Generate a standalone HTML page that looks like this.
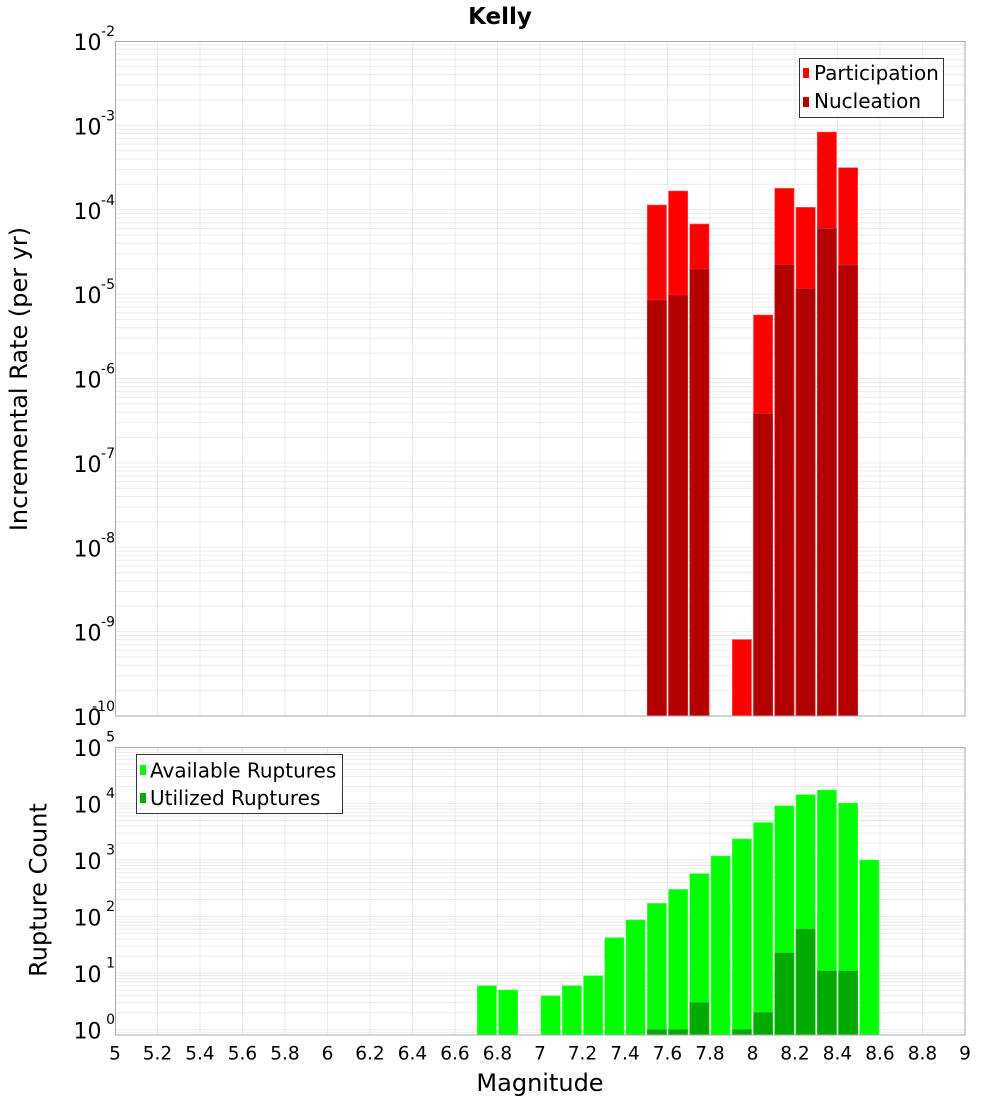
<!DOCTYPE html>
<html><head><meta charset="utf-8"><style>
html,body{margin:0;padding:0;background:#fff;}
svg{display:block;}
text{font-family:"DejaVu Sans","Liberation Sans",sans-serif;fill:#000;}
</style></head><body>
<svg width="1000" height="1100" viewBox="0 0 1000 1100" xmlns="http://www.w3.org/2000/svg">
<rect x="0" y="0" width="1000" height="1100" fill="#fff"/>
<text x="500" y="24" font-size="23" font-weight="bold" text-anchor="middle">Kelly</text>

<!-- TOP PLOT GRID -->
<g stroke="#ebebeb" stroke-width="1" fill="none">
<path d="M157.5 41V716M200 41V716M242.5 41V716M285 41V716M327.5 41V716M370 41V716M412.5 41V716M455 41V716M497.5 41V716M540 41V716M582.5 41V716M625 41V716M667.5 41V716M710 41V716M752.5 41V716M795 41V716M837.5 41V716M880 41V716M922.5 41V716"/>
<path d="M115 690.6H965M115 675.74H965M115 665.2H965M115 657.02H965M115 650.34H965M115 644.69H965M115 639.8H965M115 635.49H965M115 631.63H965
M115 606.23H965M115 591.37H965M115 580.83H965M115 572.65H965M115 565.97H965M115 560.32H965M115 555.43H965M115 551.12H965M115 547.25H965
M115 521.85H965M115 506.99H965M115 496.45H965M115 488.27H965M115 481.59H965M115 475.94H965M115 471.05H965M115 466.74H965M115 462.88H965
M115 437.48H965M115 422.62H965M115 412.08H965M115 403.9H965M115 397.22H965M115 391.57H965M115 386.68H965M115 382.37H965M115 378.5H965
M115 353.1H965M115 338.24H965M115 327.7H965M115 319.52H965M115 312.84H965M115 307.19H965M115 302.3H965M115 297.99H965M115 294.13H965
M115 268.73H965M115 253.87H965M115 243.33H965M115 235.15H965M115 228.47H965M115 222.82H965M115 217.93H965M115 213.62H965M115 209.75H965
M115 184.35H965M115 169.49H965M115 158.95H965M115 150.77H965M115 144.09H965M115 138.44H965M115 133.55H965M115 129.24H965M115 125.38H965
M115 99.98H965M115 85.12H965M115 74.58H965M115 66.4H965M115 59.72H965M115 54.07H965M115 49.18H965M115 44.87H965"/>
</g>

<!-- TOP BARS participation -->
<g fill="#ff0000" stroke="#ff6060" stroke-width="0.6">
<rect x="647.25" y="205" width="19.25" height="511"/>
<rect x="668.5" y="191" width="19.25" height="525"/>
<rect x="689.75" y="224" width="19.25" height="492"/>
<rect x="732.25" y="639.5" width="19.25" height="76.5"/>
<rect x="753.5" y="315" width="19.25" height="401"/>
<rect x="774.75" y="188.3" width="19.25" height="527.7"/>
<rect x="796" y="207.3" width="19.25" height="508.7"/>
<rect x="817.25" y="132" width="19.25" height="584"/>
<rect x="838.5" y="167.7" width="19.25" height="548.3"/>
</g>
<!-- TOP BARS nucleation -->
<g fill="#b30000" stroke="#c84040" stroke-width="0.6">
<rect x="647.25" y="300" width="19.25" height="416"/>
<rect x="668.5" y="295" width="19.25" height="421"/>
<rect x="689.75" y="269" width="19.25" height="447"/>
<rect x="753.5" y="413.3" width="19.25" height="302.7"/>
<rect x="774.75" y="264.3" width="19.25" height="451.7"/>
<rect x="796" y="288.3" width="19.25" height="427.7"/>
<rect x="817.25" y="228.3" width="19.25" height="487.7"/>
<rect x="838.5" y="265" width="19.25" height="451"/>
</g>
<rect x="115.5" y="41.5" width="849.5" height="674.5" fill="none" stroke="#aaaaaa" stroke-width="1"/>

<!-- TOP LEGEND -->
<rect x="799.5" y="58.5" width="144" height="59" fill="#fff" stroke="#333" stroke-width="1"/>
<rect x="803" y="68" width="6" height="10" fill="#ff0000"/>
<rect x="803" y="97" width="6" height="10" fill="#b30000"/>
<text x="814" y="80" font-size="20">Participation</text>
<text x="814" y="108" font-size="20">Nucleation</text>

<!-- TOP Y LABELS -->
<g font-size="22" text-anchor="end">
<text x="101.5" y="50">10</text>
<text x="101.5" y="134.4">10</text>
<text x="101.5" y="218.8">10</text>
<text x="101.5" y="303.1">10</text>
<text x="101.5" y="387.5">10</text>
<text x="101.5" y="471.9">10</text>
<text x="101.5" y="556.3">10</text>
<text x="101.5" y="640.6">10</text>
<text x="101.5" y="725">10</text>
</g>
<g font-size="14" text-anchor="end">
<text x="115" y="36">-2</text>
<text x="115" y="120.4">-3</text>
<text x="115" y="204.8">-4</text>
<text x="115" y="289.1">-5</text>
<text x="115" y="373.5">-6</text>
<text x="115" y="457.9">-7</text>
<text x="115" y="542.3">-8</text>
<text x="115" y="626.6">-9</text>
<text x="115" y="711">-10</text>
</g>
<text transform="translate(27,379) rotate(-90)" font-size="24" text-anchor="middle">Incremental Rate (per yr)</text>

<!-- BOTTOM PLOT GRID -->
<g stroke="#ebebeb" stroke-width="1" fill="none">
<path d="M157.5 747V1035M200 747V1035M242.5 747V1035M285 747V1035M327.5 747V1035M370 747V1035M412.5 747V1035M455 747V1035M497.5 747V1035M540 747V1035M582.5 747V1035M625 747V1035M667.5 747V1035M710 747V1035M752.5 747V1035M795 747V1035M837.5 747V1035M880 747V1035M922.5 747V1035"/>
<path d="M115 1032.2H965M115 1029.6H965M115 1012.59H965M115 1002.63H965M115 995.57H965M115 990.09H965M115 985.62H965M115 981.83H965M115 978.56H965M115 975.67H965
M115 973.08H965M115 956.07H965M115 946.11H965M115 939.05H965M115 933.57H965M115 929.1H965M115 925.31H965M115 922.04H965M115 919.15H965
M115 916.56H965M115 899.55H965M115 889.59H965M115 882.53H965M115 877.05H965M115 872.58H965M115 868.79H965M115 865.52H965M115 862.63H965
M115 860.04H965M115 843.03H965M115 833.07H965M115 826.01H965M115 820.53H965M115 816.06H965M115 812.27H965M115 809H965M115 806.11H965
M115 803.52H965M115 786.51H965M115 776.55H965M115 769.49H965M115 764.01H965M115 759.54H965M115 755.75H965M115 752.48H965M115 749.59H965"/>
</g>

<!-- BOTTOM BARS available -->
<g fill="#00ff00" stroke="#60ff60" stroke-width="0.6">
<rect x="477.25" y="985.7" width="19.25" height="49.3"/>
<rect x="498.5" y="990" width="19.25" height="45"/>
<rect x="541" y="995.7" width="19.25" height="39.3"/>
<rect x="562.25" y="985.7" width="19.25" height="49.3"/>
<rect x="583.5" y="975.7" width="19.25" height="59.3"/>
<rect x="604.75" y="937.7" width="19.25" height="97.3"/>
<rect x="626" y="920" width="19.25" height="115"/>
<rect x="647.25" y="903.3" width="19.25" height="131.7"/>
<rect x="668.5" y="889.3" width="19.25" height="145.7"/>
<rect x="689.75" y="873.7" width="19.25" height="161.3"/>
<rect x="711" y="856" width="19.25" height="179"/>
<rect x="732.25" y="839" width="19.25" height="196"/>
<rect x="753.5" y="822.5" width="19.25" height="212.5"/>
<rect x="774.75" y="805.8" width="19.25" height="229.2"/>
<rect x="796" y="794.7" width="19.25" height="240.3"/>
<rect x="817.25" y="790" width="19.25" height="245"/>
<rect x="838.5" y="803" width="19.25" height="232"/>
<rect x="859.75" y="860" width="19.25" height="175"/>
</g>
<!-- BOTTOM BARS utilized -->
<g fill="#00aa00" stroke="#40c040" stroke-width="0.6">
<rect x="647.25" y="1029.3" width="19.25" height="5.7"/>
<rect x="668.5" y="1029.3" width="19.25" height="5.7"/>
<rect x="689.75" y="1002.3" width="19.25" height="32.7"/>
<rect x="732.25" y="1029.3" width="19.25" height="5.7"/>
<rect x="753.5" y="1012.3" width="19.25" height="22.7"/>
<rect x="774.75" y="952.7" width="19.25" height="82.3"/>
<rect x="796" y="929" width="19.25" height="106"/>
<rect x="817.25" y="970.7" width="19.25" height="64.3"/>
<rect x="838.5" y="970.7" width="19.25" height="64.3"/>
</g>
<rect x="115.5" y="747.5" width="849.5" height="287.5" fill="none" stroke="#aaaaaa" stroke-width="1"/>

<!-- BOTTOM LEGEND -->
<rect x="136.5" y="754.5" width="206" height="59" fill="#fff" stroke="#333" stroke-width="1"/>
<rect x="140" y="765" width="6" height="10" fill="#00ff00"/>
<rect x="140" y="793" width="6" height="10" fill="#00aa00"/>
<text x="150" y="777.5" font-size="20">Available Ruptures</text>
<text x="150" y="805" font-size="20">Utilized Ruptures</text>

<!-- BOTTOM Y LABELS -->
<g font-size="22" text-anchor="end">
<text x="101.5" y="756">10</text>
<text x="101.5" y="812.5">10</text>
<text x="101.5" y="869">10</text>
<text x="101.5" y="925.5">10</text>
<text x="101.5" y="982">10</text>
<text x="101.5" y="1038.6">10</text>
</g>
<g font-size="14" text-anchor="end">
<text x="115" y="741.5">5</text>
<text x="115" y="798">4</text>
<text x="115" y="854.5">3</text>
<text x="115" y="911">2</text>
<text x="115" y="967.6">1</text>
<text x="115" y="1024.1">0</text>
</g>
<text transform="translate(46.7,890) rotate(-90)" font-size="24" text-anchor="middle">Rupture Count</text>

<!-- X TICK LABELS -->
<g font-size="18.5" text-anchor="middle">
<text x="115" y="1059.3">5</text>
<text x="157.5" y="1059.3">5.2</text>
<text x="200" y="1059.3">5.4</text>
<text x="242.5" y="1059.3">5.6</text>
<text x="285" y="1059.3">5.8</text>
<text x="327.5" y="1059.3">6</text>
<text x="370" y="1059.3">6.2</text>
<text x="412.5" y="1059.3">6.4</text>
<text x="455" y="1059.3">6.6</text>
<text x="497.5" y="1059.3">6.8</text>
<text x="540" y="1059.3">7</text>
<text x="582.5" y="1059.3">7.2</text>
<text x="625" y="1059.3">7.4</text>
<text x="667.5" y="1059.3">7.6</text>
<text x="710" y="1059.3">7.8</text>
<text x="752.5" y="1059.3">8</text>
<text x="795" y="1059.3">8.2</text>
<text x="837.5" y="1059.3">8.4</text>
<text x="880" y="1059.3">8.6</text>
<text x="922.5" y="1059.3">8.8</text>
<text x="965" y="1059.3">9</text>
</g>
<text x="540" y="1091" font-size="24" text-anchor="middle">Magnitude</text>
</svg>
</body></html>
